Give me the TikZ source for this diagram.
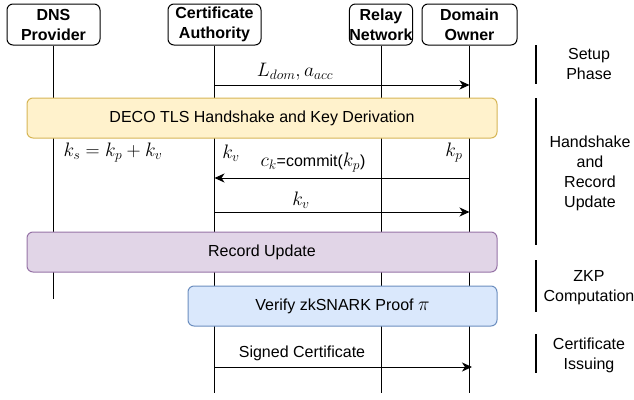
\RequirePackage{fix-cm}
\documentclass[tikz,border=0pt]{standalone}
\usepackage[no-math]{fontspec}
\setmainfont{Liberation Sans}
\usetikzlibrary{arrows.meta}
\definecolor{yfill}{HTML}{FFF2CC}
\definecolor{ydraw}{HTML}{D6B656}
\definecolor{pfill}{HTML}{E1D5E7}
\definecolor{pdraw}{HTML}{9673A6}
\definecolor{bfill}{HTML}{DAE8FC}
\definecolor{bdraw}{HTML}{6C8EBF}
\newcommand{\mymath}[1]{{\fontsize{19.5}{22}\selectfont$#1$}}
\begin{document}
\begin{tikzpicture}[x=1pt,y=-1pt,
  font=\fontsize{16}{20}\selectfont,
  actor/.style={draw=black, line width=1pt, rounded corners=6pt, minimum width=#1,
    minimum height=41pt, inner sep=0pt, align=center,
    font=\fontsize{16}{20}\selectfont\bfseries},
  band/.style={line width=1pt, rounded corners=6pt, minimum height=40pt, inner sep=0pt},
  life/.style={draw=black, line width=1pt},
  msg/.style={draw=black, line width=1pt, -{Stealth[length=10pt,width=9pt,inset=3pt]}},
  phase/.style={draw=black, line width=1.2pt},
  plabel/.style={align=center, font=\fontsize{16}{20}\selectfont},
  lbl/.style={inner sep=0pt}]
\useasboundingbox (0,0) rectangle (634,399);

% actors
\node[actor=93pt] (dns) at (53.5,24.5) {DNS\\Provider};
\node[actor=93pt] (ca) at (214.5,24.5) {Certificate\\Authority};
\node[actor=63pt] (relay) at (381,24.5) {Relay\\Network};
\node[actor=95pt] (do) at (469.5,24.5) {Domain\\Owner};

% lifeline ends
\coordinate (dnsend) at (53.5,299);
\coordinate (bottom) at (0,393);
\draw[life] (dns.south) -- (dnsend);
\draw[life] (ca.south) -- (ca.south |- bottom);
\draw[life] (relay.south) -- (relay.south |- bottom);
\draw[life] (do.south) -- (do.south |- bottom);

% rows
\coordinate (r1) at (0,85);
\coordinate (r2) at (0,178);
\coordinate (r3) at (0,212);
\coordinate (r4) at (0,367);
\coordinate (r4end) at (472,367);

\draw[msg] (ca.south |- r1) -- (do.south |- r1);
\node[lbl] (l1) at (295,72) {\mymath{L_{dom}, a_{acc}}};

\node[band, fill=yfill, draw=ydraw, minimum width=470pt] (deco) at (262,118) {DECO TLS Handshake and Key Derivation};

\node[lbl] (ks) at (113,153) {\mymath{k_s = k_p + k_v}};
\node[lbl] (kv1) at (231,153) {\mymath{k_v}};
\node[lbl] (kp1) at (454,153) {\mymath{k_p}};

\draw[msg] (do.south |- r2) -- (ca.south |- r2);
\node[lbl] (l2) at (313,163) {\mymath{c_k}=commit(\mymath{k_p})};
\draw[msg] (ca.south |- r3) -- (do.south |- r3);
\node[lbl] (l3) at (301,200) {\mymath{k_v}};

\node[band, fill=pfill, draw=pdraw, minimum width=470pt] (rec) at (262,252) {Record Update};
\node[band, fill=bfill, draw=bdraw, minimum width=309pt] (ver) at (342.5,306) {Verify zkSNARK Proof \mymath{\pi}};

\draw[msg] (ca.south |- r4) -- (r4end);
\node[lbl] (l4) at (302,353) {Signed Certificate};

% phases
\coordinate (p1a) at (536,45);  \coordinate (p1b) at (536,84);
\coordinate (p2a) at (536,98);  \coordinate (p2b) at (536,245);
\coordinate (p3a) at (536,260); \coordinate (p3b) at (536,312);
\coordinate (p4a) at (536,334); \coordinate (p4b) at (536,373);
\draw[phase] (p1a) -- (p1b);
\draw[phase] (p2a) -- (p2b);
\draw[phase] (p3a) -- (p3b);
\draw[phase] (p4a) -- (p4b);
\node[plabel] (t1) at (589,64) {Setup\\Phase};
\node[plabel] (t2) at (590,173) {Handshake\\and\\Record\\Update};
\node[plabel] (t3) at (589,288) {ZKP\\Computation};
\node[plabel] (t4) at (589,355) {Certificate\\Issuing};
\end{tikzpicture}
\end{document}
